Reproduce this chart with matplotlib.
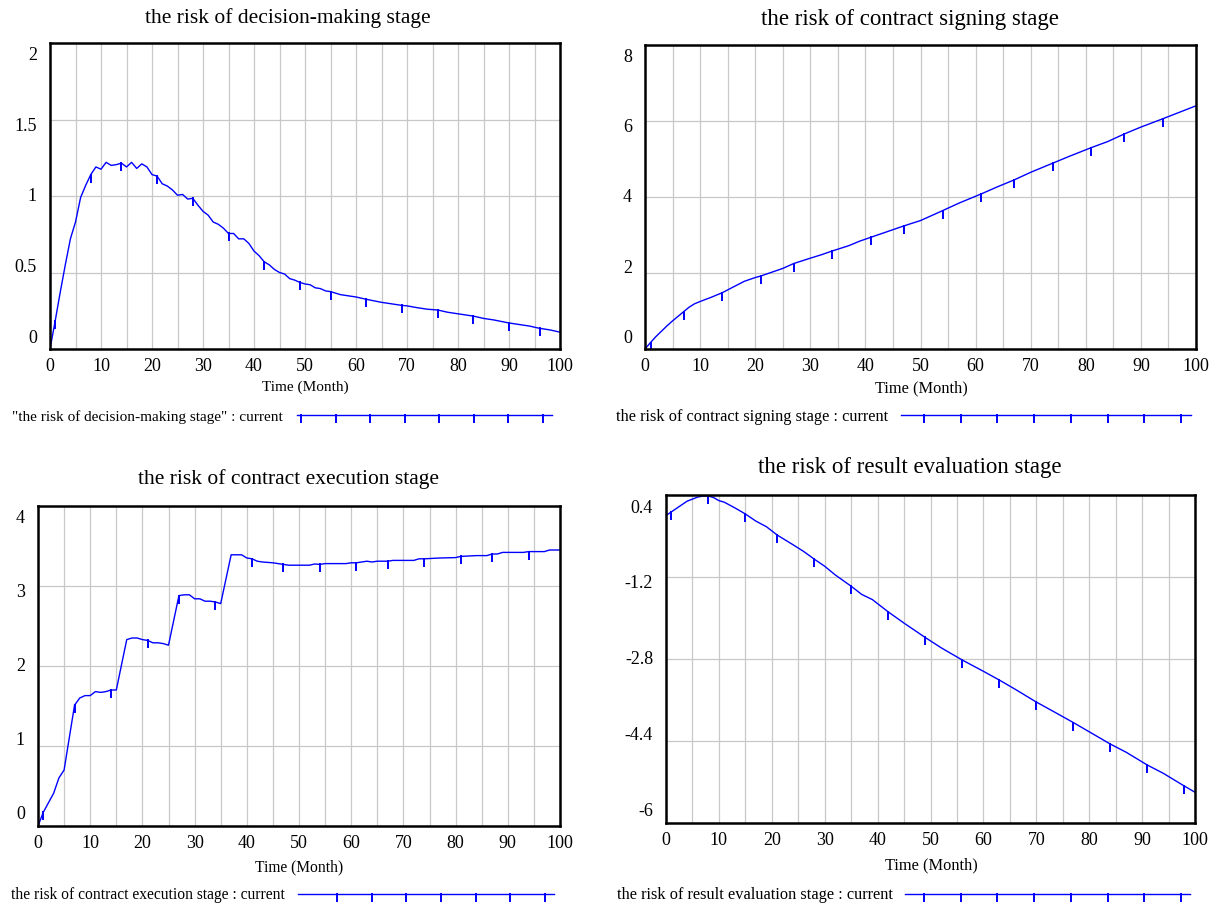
import numpy as np
import matplotlib.pyplot as plt
from matplotlib.lines import Line2D
from matplotlib.path import Path
from matplotlib.transforms import offset_copy

plt.rcParams['font.family'] = ['Liberation Serif', 'DejaVu Serif']

W, H = 1215, 908

# ---- data (time in months) ----
t_decision = [0, 1, 2, 3, 4, 5, 6, 7, 8, 9, 10, 11, 12, 13, 14, 15, 16, 17, 18, 19,
              20, 21, 22, 23, 24, 25, 26, 27, 28, 29, 30, 31, 32, 33, 34, 35, 36, 37,
              38, 39, 40, 41, 42, 43, 44, 45, 46, 47, 48, 49, 50, 51, 52, 53, 54, 55,
              57, 60, 62, 65, 67, 69, 70, 72, 74, 76, 78, 80, 83, 85, 87, 90, 92, 94,
              96, 98, 100]
v_decision = [0, 0.18, 0.37, 0.55, 0.72, 0.83, 0.99, 1.07, 1.14, 1.19, 1.175, 1.22,
              1.20, 1.205, 1.215, 1.19, 1.22, 1.18, 1.21, 1.19, 1.14, 1.13, 1.08, 1.065,
              1.04, 1.005, 1.01, 0.98, 0.985, 0.94, 0.90, 0.875, 0.83, 0.815, 0.79,
              0.755, 0.755, 0.72, 0.72, 0.69, 0.64, 0.61, 0.57, 0.55, 0.52, 0.50, 0.49,
              0.46, 0.45, 0.435, 0.425, 0.42, 0.40, 0.395, 0.38, 0.375, 0.355, 0.34,
              0.325, 0.305, 0.295, 0.285, 0.282, 0.27, 0.26, 0.255, 0.24, 0.23, 0.215,
              0.20, 0.19, 0.17, 0.16, 0.15, 0.135, 0.125, 0.11]
m_decision = [1, 8, 14, 21, 28, 35, 42, 49, 55, 62, 69, 76, 83, 90, 96]

t_signing = [0, 1, 2, 3, 4, 5, 6, 7, 8, 9, 10, 12, 14, 16, 18, 20, 21, 23, 25, 27, 30,
             32, 34, 37, 39, 41, 44, 47, 50, 54, 57, 61, 64, 67, 70, 74, 77, 81, 84, 87,
             90, 94, 97, 100]
v_signing = [0, 0.17, 0.33, 0.47, 0.61, 0.74, 0.86, 0.98, 1.10, 1.19, 1.25, 1.36, 1.48,
             1.63, 1.78, 1.88, 1.92, 2.02, 2.12, 2.25, 2.39, 2.48, 2.58, 2.72, 2.84,
             2.94, 3.09, 3.24, 3.38, 3.64, 3.84, 4.08, 4.27, 4.45, 4.65, 4.89, 5.07,
             5.30, 5.46, 5.66, 5.84, 6.06, 6.23, 6.40]
m_signing = [1, 7, 14, 21, 27, 34, 41, 47, 54, 61, 67, 74, 81, 87, 94]

t_execution = [0, 1, 3, 4, 5, 7, 8, 9, 10, 11, 12, 13, 14, 15, 17, 18, 19, 20, 21, 22,
               23, 24, 25, 27, 28, 29, 30, 31, 32, 33, 34, 35, 37, 38, 39, 40, 41, 42,
               43, 45, 47, 48, 52, 53, 54, 55, 59, 60, 61, 62, 63, 64, 65, 67, 68, 72,
               73, 74, 77, 80, 81, 84, 86, 87, 88, 89, 93, 94, 97, 98, 100]
v_execution = [0, 0.17, 0.41, 0.60, 0.70, 1.51, 1.60, 1.63, 1.63, 1.68, 1.67, 1.68,
               1.70, 1.70, 2.33, 2.35, 2.35, 2.33, 2.32, 2.29, 2.29, 2.28, 2.26, 2.88,
               2.89, 2.89, 2.84, 2.84, 2.81, 2.81, 2.80, 2.78, 3.39, 3.39, 3.39, 3.35,
               3.34, 3.31, 3.30, 3.29, 3.27, 3.26, 3.26, 3.275, 3.27, 3.28, 3.28, 3.29,
               3.29, 3.30, 3.31, 3.30, 3.31, 3.31, 3.32, 3.32, 3.34, 3.34, 3.35, 3.355,
               3.37, 3.38, 3.38, 3.40, 3.40, 3.42, 3.42, 3.43, 3.43, 3.45, 3.45]
m_execution = [1, 7, 14, 21, 27, 34, 41, 47, 54, 61, 67, 74, 81, 87, 94]

t_evaluation = [0, 1, 2, 3, 4, 5, 6, 7, 8, 9, 10, 11, 13, 15, 17, 19, 21, 24, 26, 28,
                30, 32, 35, 37, 39, 42, 45, 49, 52, 56, 60, 63, 66, 70, 73, 77, 80, 84,
                87, 91, 94, 98, 100]
v_evaluation = [0.0, 0.07, 0.14, 0.21, 0.28, 0.32, 0.36, 0.38, 0.38, 0.35, 0.29, 0.26,
                0.15, 0.03, -0.11, -0.22, -0.38, -0.57, -0.70, -0.85, -0.99, -1.16,
                -1.38, -1.54, -1.64, -1.88, -2.10, -2.38, -2.58, -2.82, -3.04, -3.21,
                -3.39, -3.64, -3.81, -4.04, -4.22, -4.46, -4.62, -4.87, -5.03, -5.28,
                -5.40]
m_evaluation = [1, 8, 15, 21, 28, 35, 42, 49, 56, 63, 70, 77, 84, 91, 98]

BLUE = '#0000ff'
tick_marker = Path([[0, 0.15], [0, -1.0]], [Path.MOVETO, Path.LINETO])


def fx(x):
    return x / W


def fy(y):
    return 1 - y / H


def draw_panel(fig, box, t, v, marks, ylo, yhi, ylabels, title, title_xy,
               xlabel_xy, legend_text, legend_xy, line_span, legend_marks,
               title_size=15.5, text_size=11):
    left, right, top, bottom = box
    ax = fig.add_axes([fx(left), fy(bottom), (right - left) / W, (bottom - top) / H])
    idx = [t.index(m) for m in marks]
    ax.plot(t, v, color=BLUE, lw=1.0, marker=tick_marker, markevery=idx,
            ms=12, mew=1.4, mec=BLUE)
    ax.set_xlim(0, 100)
    ax.set_ylim(ylo, yhi)
    ax.set_xticks(np.arange(0, 101, 5))
    ax.set_xticklabels([str(k) if k % 10 == 0 else '' for k in range(0, 101, 5)])
    ax.set_yticks(np.linspace(ylo, yhi, 5))
    ax.set_yticklabels([])
    ax.tick_params(length=0, labelsize=13, pad=6.5)
    ax.grid(True, color='#c8c8c8', lw=0.9)
    ax.set_axisbelow(True)
    for sp in ax.spines.values():
        sp.set_linewidth(1.8)

    trans = offset_copy(ax.transAxes, fig=fig, x=-13, y=0, units='dots')
    for i, lab in enumerate(ylabels):
        ax.text(0, 0.035 + 0.925 * i / 4, lab, transform=trans,
                ha='right', va='center', fontsize=13)

    fig.text(fx(title_xy[0]), fy(title_xy[1]), title, fontsize=title_size,
             ha='center', va='center')
    fig.text(fx(xlabel_xy[0]), fy(xlabel_xy[1]), 'Time (Month)', fontsize=text_size,
             ha='center', va='center')

    # legend row under the panel
    fig.text(fx(legend_xy[0]), fy(legend_xy[1]), legend_text, fontsize=text_size,
             ha='left', va='center')
    ly = line_span[2]
    fig.add_artist(Line2D([fx(line_span[0]), fx(line_span[1])], [fy(ly), fy(ly)],
                          transform=fig.transFigure, color=BLUE, lw=1.0))
    mx = np.linspace(legend_marks[0], legend_marks[1], legend_marks[2])
    fig.add_artist(Line2D(fx(mx), fy(np.full_like(mx, ly)), transform=fig.transFigure,
                          ls='none', marker=tick_marker, ms=12, mew=1.4, color=BLUE))
    return ax


def main():
    fig = plt.figure(figsize=(W / 100, H / 100), dpi=100)

    draw_panel(fig, (50, 560, 43, 349), t_decision, v_decision, m_decision,
               0, 2, ['0', '0.5', '1', '1.5', '2'],
               'the risk of decision-making stage', (288, 18), (305, 387),
               '"the risk of decision-making stage" : current', (12, 417),
               (297, 552, 415), (301, 543, 8))

    draw_panel(fig, (645, 1196, 45, 349), t_signing, v_signing, m_signing,
               0, 8, ['0', '2', '4', '6', '8'],
               'the risk of contract signing stage', (910, 20), (921, 388),
               'the risk of contract signing stage : current', (616, 417),
               (901, 1191, 415), (924, 1181, 8), title_size=16.5, text_size=11.8)

    draw_panel(fig, (38, 560, 506, 826), t_execution, v_execution, m_execution,
               0, 4, ['0', '1', '2', '3', '4'],
               'the risk of contract execution stage', (289, 479), (299, 867),
               'the risk of contract execution stage : current', (11, 895),
               (298, 554, 894), (337, 545, 7), text_size=11.2)

    draw_panel(fig, (666, 1195, 495, 823), t_evaluation, v_evaluation, m_evaluation,
               -6, 0.4, ['-6', '-4.4', '-2.8', '-1.2', '0.4'],
               'the risk of result evaluation stage', (910, 468), (931, 865),
               'the risk of result evaluation stage : current', (617, 895),
               (905, 1190, 894), (924, 1181, 8), title_size=16.5, text_size=11.8)

    fig.savefig('out.png', dpi=100)


if __name__ == '__main__':
    main()
